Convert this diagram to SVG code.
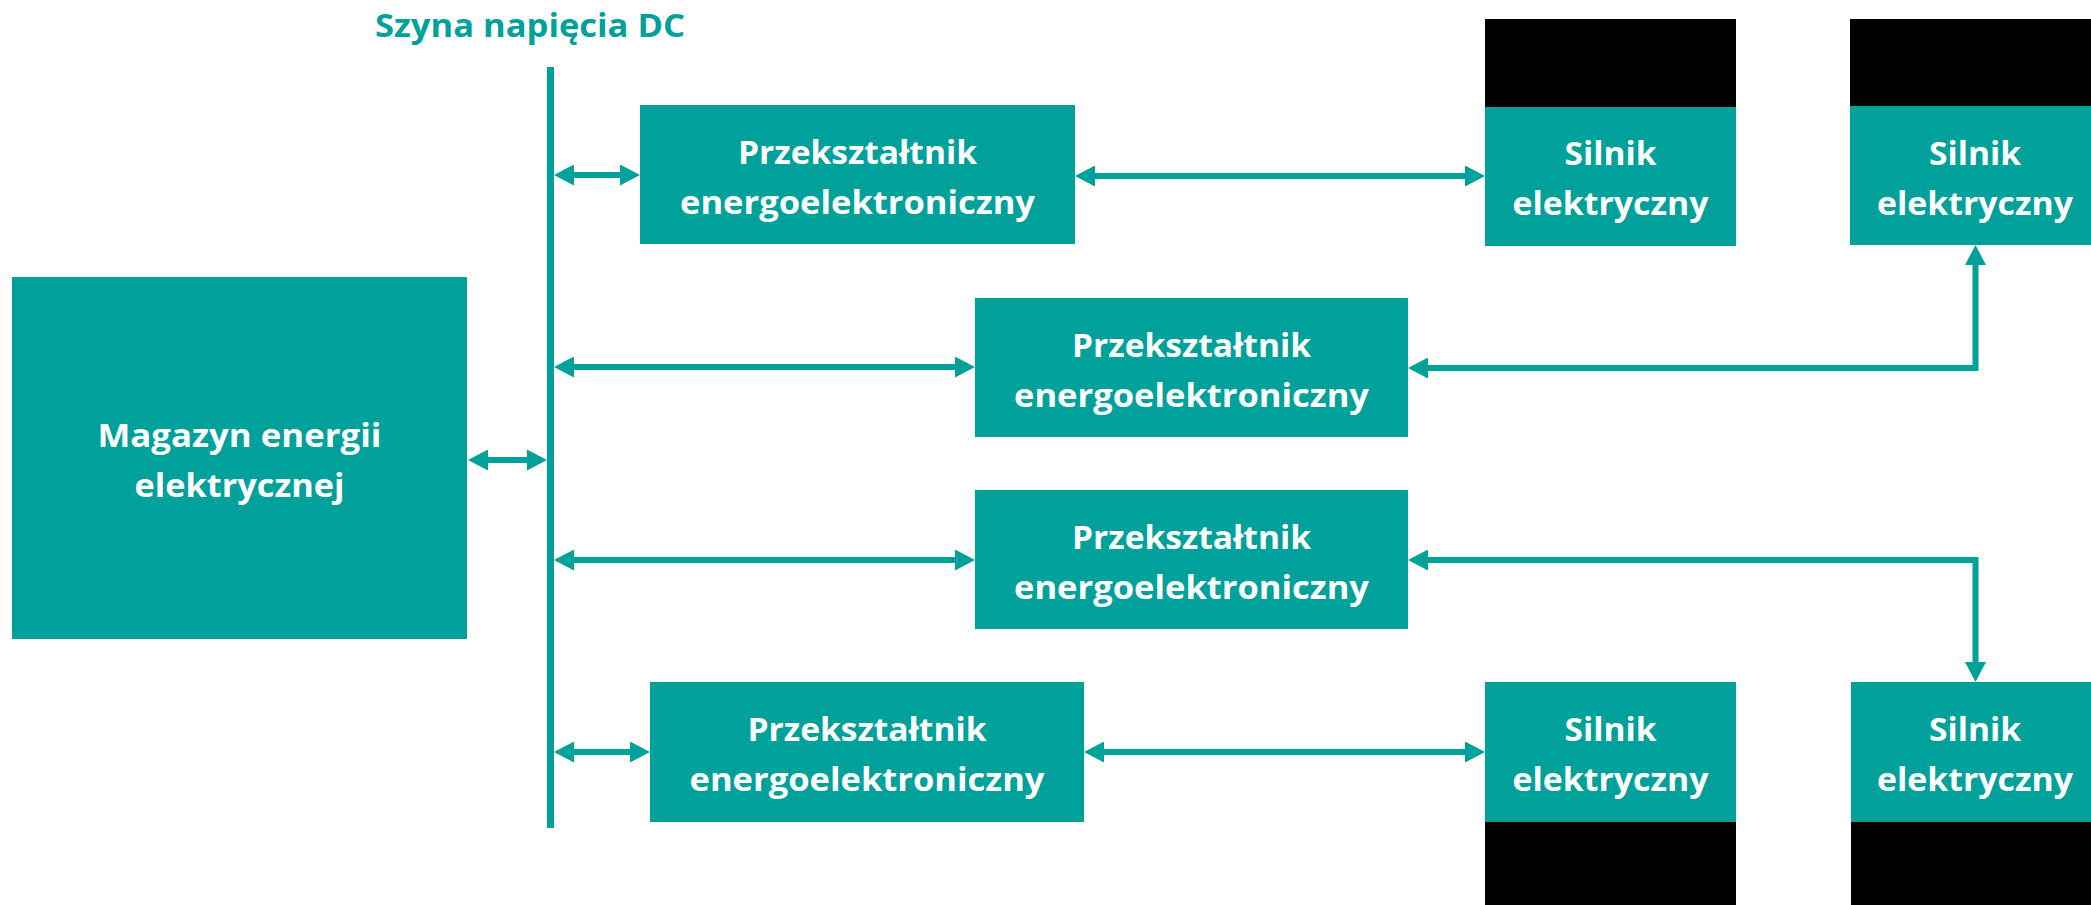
<svg xmlns="http://www.w3.org/2000/svg" width="2091" height="905" viewBox="0 0 2091 905">
<style>
.box{fill:#00A19A}
.blk{fill:#000000}
.t{font-family:"Open Sans","Liberation Sans",sans-serif;font-weight:bold;font-size:33px;fill:#FFFFFF;text-anchor:middle}
.title{font-family:"Open Sans","Liberation Sans",sans-serif;font-weight:bold;font-size:33px;fill:#00A19A;text-anchor:middle}
.c{fill:none;stroke:#00A19A;stroke-width:6;marker-start:url(#ah);marker-end:url(#ah)}
</style>
<defs>
<marker id="ah" viewBox="0 0 20 21" refX="8" refY="10.5" markerWidth="20" markerHeight="21" markerUnits="userSpaceOnUse" orient="auto-start-reverse">
<path d="M0,0 L20,10.5 L0,21 Z" fill="#00A19A"/>
</marker>
</defs>
<rect width="2091" height="905" fill="#FFFFFF"/>
<g id="bus">
<text class="title" x="530" y="37" textLength="310" lengthAdjust="spacingAndGlyphs">Szyna napięcia DC</text>
<rect class="box" x="547" y="67" width="7" height="761"/>
</g>
<g id="magazyn">
<rect class="box" x="12" y="277" width="455" height="362"/>
<text class="t" x="239.5" y="447" textLength="284" lengthAdjust="spacingAndGlyphs">Magazyn energii</text>
<text class="t" x="239.5" y="497" textLength="210" lengthAdjust="spacingAndGlyphs">elektrycznej</text>
</g>
<g id="conv1">
<rect class="box" x="640" y="105" width="435" height="139"/>
<text class="t" x="857.5" y="163.5" textLength="239" lengthAdjust="spacingAndGlyphs">Przekształtnik</text>
<text class="t" x="857.5" y="213.5" textLength="355" lengthAdjust="spacingAndGlyphs">energoelektroniczny</text>
</g>
<g id="conv2">
<rect class="box" x="975" y="298" width="433" height="139"/>
<text class="t" x="1191.5" y="356.5" textLength="239" lengthAdjust="spacingAndGlyphs">Przekształtnik</text>
<text class="t" x="1191.5" y="406.5" textLength="355" lengthAdjust="spacingAndGlyphs">energoelektroniczny</text>
</g>
<g id="conv3">
<rect class="box" x="975" y="490" width="433" height="139"/>
<text class="t" x="1191.5" y="548.5" textLength="239" lengthAdjust="spacingAndGlyphs">Przekształtnik</text>
<text class="t" x="1191.5" y="598.5" textLength="355" lengthAdjust="spacingAndGlyphs">energoelektroniczny</text>
</g>
<g id="conv4">
<rect class="box" x="650" y="682" width="434" height="140"/>
<text class="t" x="867" y="741" textLength="239" lengthAdjust="spacingAndGlyphs">Przekształtnik</text>
<text class="t" x="867" y="791" textLength="355" lengthAdjust="spacingAndGlyphs">energoelektroniczny</text>
</g>
<g id="motor1">
<rect class="blk" x="1485" y="19" width="251" height="88"/>
<rect class="box" x="1485" y="107" width="251" height="139"/>
<text class="t" x="1610.5" y="165" textLength="92" lengthAdjust="spacingAndGlyphs">Silnik</text>
<text class="t" x="1610.5" y="215" textLength="196" lengthAdjust="spacingAndGlyphs">elektryczny</text>
</g>
<g id="motor2">
<rect class="blk" x="1850" y="19" width="250" height="87"/>
<rect class="box" x="1850" y="106" width="250" height="139"/>
<text class="t" x="1975" y="165" textLength="92" lengthAdjust="spacingAndGlyphs">Silnik</text>
<text class="t" x="1975" y="215" textLength="196" lengthAdjust="spacingAndGlyphs">elektryczny</text>
</g>
<g id="motor3">
<rect class="box" x="1485" y="682" width="251" height="140"/>
<rect class="blk" x="1485" y="822" width="251" height="83"/>
<text class="t" x="1610.5" y="741" textLength="92" lengthAdjust="spacingAndGlyphs">Silnik</text>
<text class="t" x="1610.5" y="791" textLength="196" lengthAdjust="spacingAndGlyphs">elektryczny</text>
</g>
<g id="motor4">
<rect class="box" x="1851" y="682" width="250" height="140"/>
<rect class="blk" x="1851" y="822" width="250" height="83"/>
<text class="t" x="1975" y="741" textLength="92" lengthAdjust="spacingAndGlyphs">Silnik</text>
<text class="t" x="1975" y="791" textLength="196" lengthAdjust="spacingAndGlyphs">elektryczny</text>
</g>
<g id="connectors">
<path class="c" d="M566,175 L628,175"/>
<path class="c" d="M480,460 L535,460"/>
<path class="c" d="M566,367 L963,367"/>
<path class="c" d="M566,560 L963,560"/>
<path class="c" d="M566,752 L638,752"/>
<path class="c" d="M1087,176 L1473,176"/>
<path class="c" d="M1420,368 L1975.5,368 L1975.5,257"/>
<path class="c" d="M1420,560 L1975.5,560 L1975.5,670"/>
<path class="c" d="M1096,752 L1473,752"/>
</g>
</svg>
